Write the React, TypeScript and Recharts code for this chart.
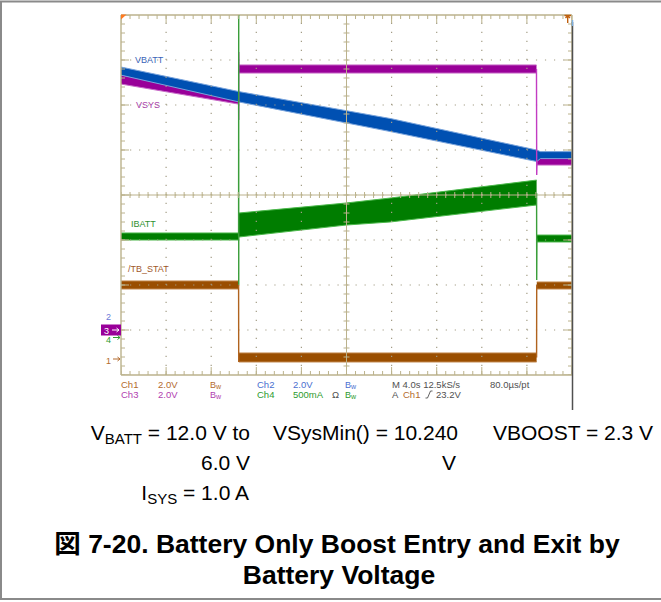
import React from 'react';
import { ComposedChart, XAxis, YAxis, Area, Line, Scatter, ReferenceLine } from 'recharts';

// ---------- graticule: time in s (4.0 s/div, 10 div), vertical in divisions (8 div)
const timeMajorTicks = [0, 4, 8, 12, 16, 20, 24, 28, 32, 36, 40];
const divMajorTicks = [-4, -3, -2, -1, 0, 1, 2, 3, 4];
const timeMinorTicks = Array.from({ length: 51 }, (_, i) => Math.round(i * 0.8 * 100) / 100);
const divMinorTicks = Array.from({ length: 41 }, (_, i) => Math.round((-4 + i * 0.2) * 100) / 100);

// ---------- channel scales: ground marker (div from centre) and units per division
const ch1Scale = { ground: -3.644, perDiv: 2 }; // /TB_STAT  (V)
const ch2Scale = { ground: -2.956, perDiv: 2 }; // VBATT     (V)
const ch3Scale = { ground: -3.0, perDiv: 2 };   // VSYS      (V)
const ch4Scale = { ground: -3.156, perDiv: 0.5 }; // IBATT   (A)

// ---------- series (t in s; r = [low, high] of the noisy trace band; v = single value)
const vbattBand = [
  { t: 0, r: [11.24, 11.6] },
  { t: 10.44, r: [10.05, 10.51] },
  { t: 23.9, r: [8.73, 9.31] },
  { t: 36.87, r: [7.4, 7.91] },
  { t: 37.2, r: [7.53, 7.84] },
  { t: 40, r: [7.53, 7.84] },
];

const vsysBand = [
  { t: 0, r: [10.93, 11.33] },
  { t: 10.43, r: [10.04, 10.44] },
  { t: 10.44, r: null },
  { t: 10.46, r: [11.42, 11.78] },
  { t: 36.85, r: [11.42, 11.78] },
  { t: 36.87, r: null },
  { t: 36.9, r: [7.33, 7.69] },
  { t: 40, r: [7.33, 7.69] },
];
const vsysStep = [
  { t: 10.43, v: 10.27 },
  { t: 10.44, v: 9.33 },
  { t: 10.445, v: 12.36 },
  { t: 10.46, v: 11.6 },
  { t: 20, v: null },
  { t: 36.85, v: 11.6 },
  { t: 36.87, v: 6.89 },
  { t: 36.9, v: 7.51 },
];

const ibattBand = [
  { t: 0, r: [1.078, 1.156] },
  { t: 10.43, r: [1.078, 1.156] },
  { t: 10.44, r: null },
  { t: 10.45, r: [1.111, 1.378] },
  { t: 19.96, r: [1.244, 1.489] },
  { t: 23.86, r: [1.278, 1.544] },
  { t: 36.86, r: [1.467, 1.744] },
  { t: 36.87, r: null },
  { t: 36.89, r: [1.056, 1.133] },
  { t: 40, r: [1.056, 1.133] },
];
const ibattStep = [
  { t: 10.43, v: 1.117 },
  { t: 10.44, v: 3.578 },
  { t: 10.442, v: 0.58 },
  { t: 10.445, v: 1.245 },
  { t: 20, v: null },
  { t: 36.86, v: 1.6 },
  { t: 36.87, v: 0.633 },
  { t: 36.89, v: 1.094 },
];

const tbstatBand = [
  { t: 0, r: [3.111, 3.467] },
  { t: 10.43, r: [3.111, 3.467] },
  { t: 10.44, r: null },
  { t: 10.45, r: [-0.133, 0.267] },
  { t: 36.86, r: [-0.133, 0.267] },
  { t: 36.87, r: null },
  { t: 36.88, r: [3.111, 3.422] },
  { t: 40, r: [3.111, 3.422] },
];
const tbstatStep = [
  { t: 10.43, v: 3.29 },
  { t: 10.44, v: -0.13 },
  { t: 10.45, v: 0.07 },
  { t: 20, v: null },
  { t: 36.86, v: 0.07 },
  { t: 36.87, v: 3.27 },
  { t: 36.88, v: 3.27 },
];

// graticule tick-mark positions (frame edges and centre axes)
const centerHTicks = timeMinorTicks.map((t) => ({ t, d: 0 }));
const centerVTicks = divMinorTicks.map((d) => ({ t: 20, d }));
const bottomMinor = timeMinorTicks.map((t) => ({ t, d: -4 }));
const bottomMajor = timeMajorTicks.map((t) => ({ t, d: -4 }));
const topMinor = timeMinorTicks.map((t) => ({ t, d: 4 }));
const topMajor = timeMajorTicks.map((t) => ({ t, d: 4 }));
const leftMinor = divMinorTicks.map((d) => ({ t: 0, d }));
const leftMajor = divMajorTicks.map((d) => ({ t: 0, d }));
const rightMinor = divMinorTicks.map((d) => ({ t: 40, d }));
const rightMajor = divMajorTicks.map((d) => ({ t: 40, d }));

const dom = (c: { ground: number; perDiv: number }) => [(-4 - c.ground) * c.perDiv, (4 - c.ground) * c.perDiv];

const FRAME = '#bbb28c';
const DOTS = '#a39d86';
const BLUE = '#0050b2';
const PURPLE = '#990099';
const GREEN = '#007d00';
const BROWN = '#9a4e00';

const C1 = '#b36b2e';
const C2 = '#4a6fd0';
const C3 = '#b040b0';
const C4 = '#2e9a2e';
const GRAY = '#505050';

const mk = (dx: number, dy: number) => (p: any) => (
  <line x1={p.cx} y1={p.cy} x2={p.cx + dx} y2={p.cy + dy} stroke={FRAME} strokeWidth={1} />
);
const HTick = (p: any) => (
  <line x1={p.cx} x2={p.cx} y1={p.cy - 3} y2={p.cy + 3} stroke={FRAME} strokeWidth={1} />
);
const VTick = (p: any) => (
  <line x1={p.cx - 3} x2={p.cx + 3} y1={p.cy} y2={p.cy} stroke={FRAME} strokeWidth={1} />
);

const scopeFont = "'Liberation Sans', Arial, sans-serif";
const capFont = "'Liberation Sans', Arial, 'Noto Sans CJK JP', sans-serif";

const Bw = ({ x, y, color }: { x: number; y: number; color: string }) => (
  <text x={x} y={y} fill={color} fontSize={9} fontFamily={scopeFont}>
    B<tspan fontSize={7} dy={1}>w</tspan>
  </text>
);

const tickScatter = (data: any[], shape: any, key: string) => (
  <Scatter key={key} data={data} shape={shape} isAnimationActive={false} />
);

export default function App() {
  const W = 661;
  const H = 602;
  return (
    <div style={{ position: 'absolute', left: 0, top: 0, width: W, height: H, background: '#fff', overflow: 'hidden' }}>
      <div style={{ position: 'absolute', left: 0, top: 0 }}>
        <ComposedChart width={W} height={H} margin={{ top: 15, left: 121, right: 89, bottom: 227 }}>
          <XAxis dataKey="t" type="number" domain={[0, 40]} allowDataOverflow hide />
          <YAxis dataKey="d" type="number" domain={[-4, 4]} allowDataOverflow hide width={0} />
          <YAxis yAxisId="ch1" hide width={0} type="number" domain={dom(ch1Scale)} allowDataOverflow />
          <YAxis yAxisId="ch2" hide width={0} type="number" domain={dom(ch2Scale)} allowDataOverflow />
          <YAxis yAxisId="ch3" hide width={0} type="number" domain={dom(ch3Scale)} allowDataOverflow />
          <YAxis yAxisId="ch4" hide width={0} type="number" domain={dom(ch4Scale)} allowDataOverflow />

          {/* dotted graticule */}
          {timeMajorTicks.slice(1, -1).map((t) => (
            <ReferenceLine key={'gx' + t} x={t} stroke={DOTS} strokeWidth={1.2} strokeDasharray="1.2 7.8" />
          ))}
          {divMajorTicks.slice(1, -1).map((d) => (
            <ReferenceLine key={'gy' + d} y={d} stroke={DOTS} strokeWidth={1.2} strokeDasharray="1.2 7.82" />
          ))}
          {/* centre axes and frame */}
          <ReferenceLine x={20} stroke={FRAME} strokeWidth={1} />
          <ReferenceLine y={0} stroke={FRAME} strokeWidth={1} />
          <ReferenceLine x={0} stroke={FRAME} strokeWidth={1.4} />
          <ReferenceLine x={40} stroke={FRAME} strokeWidth={1.4} />
          <ReferenceLine y={-4} stroke={FRAME} strokeWidth={1.4} />
          <ReferenceLine y={4} stroke={FRAME} strokeWidth={1.4} />

          <Area data={tbstatBand} dataKey="r" yAxisId="ch1" type="linear" fill={BROWN} fillOpacity={1}
            stroke="#c08448" strokeWidth={1} isAnimationActive={false} />
          <Area data={ibattBand} dataKey="r" yAxisId="ch4" type="linear" fill={GREEN} fillOpacity={1}
            stroke="#4bb84b" strokeWidth={1} isAnimationActive={false} />
          <Area data={vsysBand} dataKey="r" yAxisId="ch3" type="linear" fill={PURPLE} fillOpacity={1}
            stroke="#c76ac7" strokeWidth={1} isAnimationActive={false} />
          <Area data={vbattBand} dataKey="r" yAxisId="ch2" type="linear" fill={BLUE} fillOpacity={1}
            stroke="#79a4dc" strokeWidth={1} isAnimationActive={false} />

          <Line data={tbstatStep} dataKey="v" yAxisId="ch1" stroke="#b0631e" strokeWidth={1.4} dot={false}
            isAnimationActive={false} />
          <Line data={vsysStep} dataKey="v" yAxisId="ch3" stroke="#c23cc2" strokeWidth={1.4} dot={false}
            isAnimationActive={false} />
          <Line data={ibattStep} dataKey="v" yAxisId="ch4" stroke="#3a9e3a" strokeWidth={1.4} dot={false}
            isAnimationActive={false} />

          {tickScatter(centerHTicks, HTick, 'ch')}
          {tickScatter(centerVTicks, VTick, 'cv')}
          {tickScatter(bottomMinor, mk(0, -4), 'bmi')}
          {tickScatter(bottomMajor, mk(0, -8), 'bma')}
          {tickScatter(topMinor, mk(0, 4), 'tmi')}
          {tickScatter(topMajor, mk(0, 8), 'tma')}
          {tickScatter(leftMinor, mk(4, 0), 'lmi')}
          {tickScatter(leftMajor, mk(8, 0), 'lma')}
          {tickScatter(rightMinor, mk(-4, 0), 'rmi')}
          {tickScatter(rightMajor, mk(-8, 0), 'rma')}
        </ComposedChart>
      </div>

      <svg style={{ position: 'absolute', left: 0, top: 0 }} width={W} height={H}>
        {/* page frame */}
        <rect x={1} y={1.5} width={W + 4} height={597.5} fill="none" stroke="#8a8a8a" strokeWidth={2} />
        {/* scope screenshot right edge */}
        <line x1={572.5} x2={572.5} y1={22} y2={410} stroke="#505050" strokeWidth={1.5} />
        <line x1={572.5} x2={572.5} y1={20} y2={26} stroke="#7fb0e0" strokeWidth={1.5} />
        {/* trigger markers */}
        <polygon points="121,14.5 126.5,14.5 121,19.5" fill="#ff7a20" />
        <path d="M564.5,15.5 H571 M567.7,15.5 V23 M565.5,18 L567.7,15.8 L570,18" stroke="#c0600e" strokeWidth={1.4} fill="none" />

        {/* trace labels */}
        <text x={135} y={63} fill="#3a64b8" fontSize={9} fontFamily={scopeFont}>VBATT</text>
        <text x={136} y={108} fill="#a53aa5" fontSize={9} fontFamily={scopeFont}>VSYS</text>
        <text x={131} y={227} fill="#2e8f2e" fontSize={9} fontFamily={scopeFont}>IBATT</text>
        <text x={128} y={272} fill="#a0582a" fontSize={9} fontFamily={scopeFont}>/TB_STAT</text>

        {/* channel ground markers */}
        <text x={106} y={320} fill="#6b78d8" fontSize={9} fontFamily={scopeFont}>2</text>
        <rect x={101} y={324.5} width={20} height={11} fill={PURPLE} />
        <text x={104} y={334} fill="#fff" fontSize={9} fontFamily={scopeFont}>3</text>
        <path d="M112,330 H119 M116.5,328 L119,330 L116.5,332" stroke="#fff" strokeWidth={1} fill="none" />
        <text x={106} y={343} fill={C4} fontSize={9} fontFamily={scopeFont}>4</text>
        <path d="M113,337.5 H120 M117.5,335.5 L120,337.5 L117.5,339.5" stroke={C4} strokeWidth={1} fill="none" />
        <text x={106} y={364} fill={C1} fontSize={9} fontFamily={scopeFont}>1</text>
        <path d="M113,359 H120 M117.5,357 L120,359 L117.5,361" stroke={C1} strokeWidth={1} fill="none" />

        {/* status readout */}
        <g fontSize={9.5} fontFamily={scopeFont}>
          <text x={121} y={388} fill={C1}>Ch1</text>
          <text x={158} y={388} fill={C1}>2.0V</text>
          <text x={257} y={388} fill={C2}>Ch2</text>
          <text x={293} y={388} fill={C2}>2.0V</text>
          <text x={392} y={388} fill={GRAY}>M 4.0s 12.5kS/s</text>
          <text x={490} y={388} fill={GRAY}>80.0µs/pt</text>
          <text x={121} y={398} fill={C3}>Ch3</text>
          <text x={158} y={398} fill={C3}>2.0V</text>
          <text x={257} y={398} fill={C4}>Ch4</text>
          <text x={293} y={398} fill={C4}>500mA</text>
          <text x={332} y={398} fill={GRAY}>Ω</text>
          <text x={392} y={398} fill={GRAY}>A</text>
          <text x={403} y={398} fill={C1}>Ch1</text>
          <text x={436} y={398} fill={GRAY}>23.2V</text>
        </g>
        <path d="M425.5,398 H427.5 L430.5,391 H432.5" stroke={GRAY} strokeWidth={0.9} fill="none" />
        <Bw x={210} y={388} color={C1} />
        <Bw x={345} y={388} color={C2} />
        <Bw x={210} y={398} color={C3} />
        <Bw x={345} y={398} color={C4} />

        {/* conditions */}
        <g fontSize={21} fontFamily={capFont} fill="#000">
          <text x={250} y={440} textAnchor="end">
            V<tspan fontSize={15} dy={4}>BATT</tspan>
            <tspan dy={-4}>{' = 12.0 V to'}</tspan>
          </text>
          <text x={250} y={470} textAnchor="end">6.0 V</text>
          <text x={249} y={500} textAnchor="end">
            I<tspan fontSize={15} dy={4}>SYS</tspan>
            <tspan dy={-4}>{' = 1.0 A'}</tspan>
          </text>
          <text x={458} y={440} textAnchor="end">VSysMin() = 10.240</text>
          <text x={456} y={470} textAnchor="end">V</text>
          <text x={493} y={440}>VBOOST = 2.3 V</text>
        </g>
        <g fontSize={26.5} fontFamily={capFont} fontWeight="bold" fill="#000" textAnchor="middle">
          <text x={337} y={553}>図 7-20. Battery Only Boost Entry and Exit by</text>
          <text x={339} y={584}>Battery Voltage</text>
        </g>
      </svg>
    </div>
  );
}
